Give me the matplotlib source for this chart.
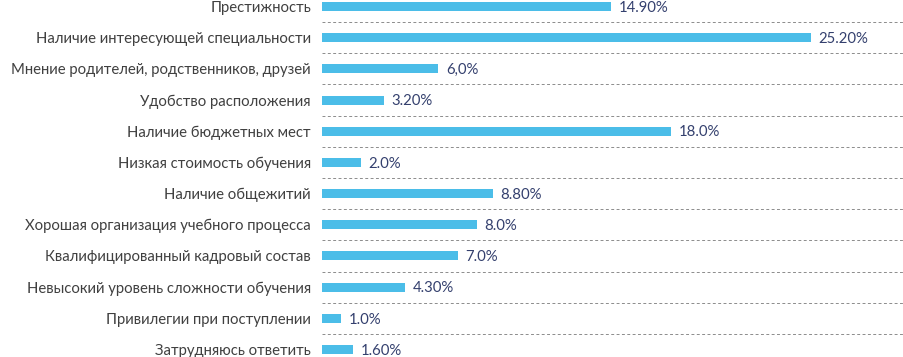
import matplotlib.pyplot as plt

categories = [
    'Престижность',
    'Наличие интересующей специальности',
    'Мнение родителей, родственников, друзей',
    'Удобство расположения',
    'Наличие бюджетных мест',
    'Низкая стоимость обучения',
    'Наличие общежитий',
    'Хорошая организация учебного процесса',
    'Квалифицированный кадровый состав',
    'Невысокий уровень сложности обучения',
    'Привилегии при поступлении',
    'Затрудняюсь ответить',
]
values = [14.9, 25.2, 6.0, 3.2, 18.0, 2.0, 8.8, 8.0, 7.0, 4.3, 1.0, 1.6]
value_labels = ['14.90%', '25.20%', '6,0%', '3.20%', '18.0%', '2.0%',
                '8.80%', '8.0%', '7.0%', '4.30%', '1.0%', '1.60%']

plt.rcParams['font.family'] = ['Lato', 'DejaVu Sans']

W, H = 904, 357
fig = plt.figure(figsize=(W / 100, H / 100), dpi=100)
ax = fig.add_axes([322 / W, 0, 1 - 322 / W, 1])

pos = list(range(len(categories)))
ax.barh(pos, values, height=0.29, color='#4BBDE8', zorder=2)

for i in range(len(categories) - 1):
    ax.axhline(i + 0.5, color='#8C8C8C', linestyle=(0, (3, 2.5)), linewidth=0.7, zorder=1)

for p, v, lab in zip(pos, values, value_labels):
    ax.text(v + 0.38, p + 0.04, lab, va='center', ha='left', fontsize=10.7, color='#34406E')

ax.set_xlim(0, 30)
row = 31.18
ax.set_ylim((H - 6.5) / row, -6.5 / row)
ax.set_yticks(pos)
ax.set_yticklabels(categories, fontsize=10.7, color='#404040')
ax.tick_params(axis='y', length=0, pad=8)
ax.set_xticks([])
for s in ax.spines.values():
    s.set_visible(False)

fig.savefig('out.png', dpi=100)
